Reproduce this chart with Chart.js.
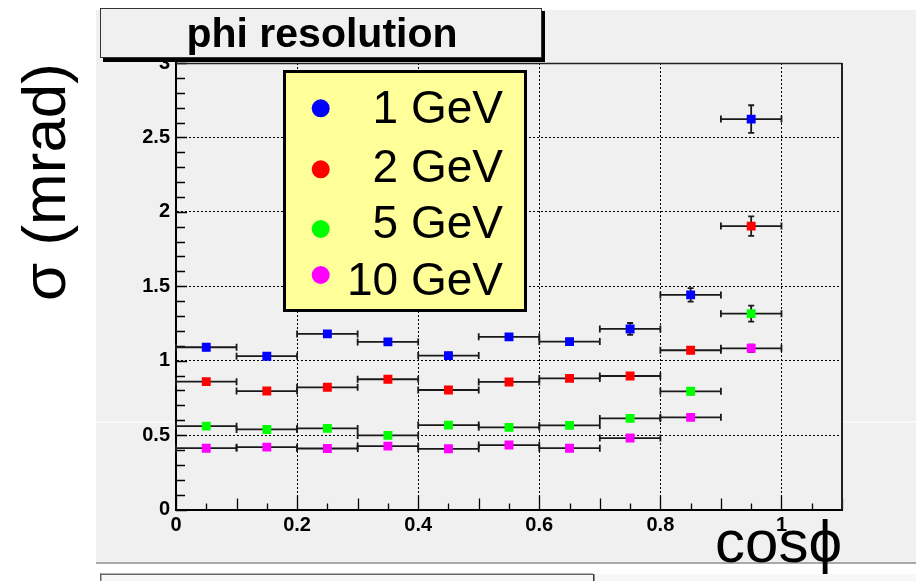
<!DOCTYPE html>
<html>
<head>
<meta charset="utf-8">
<script src="https://cdn.jsdelivr.net/npm/chart.js@4"></script>
<style>
  html, body { margin: 0; padding: 0; background: #fff; }
  #wrap { width: 916px; height: 581px; }
</style>
</head>
<body>
<div id="wrap"><canvas id="phiChart" width="916" height="581"></canvas></div>
<script>
// cos(phi) bin centres and half width
var cosBins = [0.05, 0.15, 0.25, 0.35, 0.45, 0.55, 0.65, 0.75, 0.85, 0.95];
var binHalf = 0.05;

// phi resolution (mrad) per energy, with vertical errors
var sigma1GeV  = [1.09, 1.03, 1.18, 1.126, 1.034, 1.16, 1.128, 1.213, 1.442, 2.623];
var err1GeV    = [0.02, 0.02, 0.02, 0.02, 0.02, 0.02, 0.02, 0.04, 0.045, 0.093];
var sigma2GeV  = [0.859, 0.796, 0.821, 0.875, 0.803, 0.857, 0.881, 0.897, 1.07, 1.904];
var err2GeV    = [0.015, 0.015, 0.015, 0.015, 0.015, 0.015, 0.015, 0.02, 0.02, 0.065];
var sigma5GeV  = [0.56, 0.538, 0.545, 0.498, 0.567, 0.552, 0.565, 0.612, 0.794, 1.316];
var err5GeV    = [0.01, 0.01, 0.01, 0.01, 0.01, 0.01, 0.01, 0.015, 0.02, 0.054];
var sigma10GeV = [0.412, 0.419, 0.41, 0.426, 0.408, 0.433, 0.412, 0.48, 0.619, 1.083];
var err10GeV   = [0.01, 0.01, 0.01, 0.01, 0.01, 0.01, 0.01, 0.01, 0.015, 0.025];

var energyLabels = ['1 GeV', '2 GeV', '5 GeV', '10 GeV'];
var xTicks = [0, 0.2, 0.4, 0.6, 0.8, 1];
var xTickLabels = ['0', '0.2', '0.4', '0.6', '0.8', '1'];
var yTicks = [0, 0.5, 1, 1.5, 2, 2.5, 3];
var yTickLabels = ['0', '0.5', '1', '1.5', '2', '2.5', '3'];

var FONT = '"Liberation Sans", Arial, Helvetica, sans-serif';

function makePoints(values, errs) {
  return cosBins.map(function(c, i) {
    return { x: c, y: values[i], xErr: binHalf, yErr: errs[i] };
  });
}

function makeSet(label, values, errs, color) {
  return {
    label: label,
    data: makePoints(values, errs),
    backgroundColor: color,
    borderColor: color,
    borderWidth: 0,
    pointStyle: 'rect',
    pointRadius: 6.3,
    showLine: false,
  };
}

// pad, frame and background
var padPlugin = {
  id: 'pad',
  beforeDraw: function(chart) {
    var ctx = chart.ctx, a = chart.chartArea;
    ctx.save();
    ctx.fillStyle = '#ffffff';
    ctx.fillRect(0, 0, 916, 581);
    ctx.fillStyle = '#f0f0f0';
    ctx.fillRect(96, 10, 820, 553);
    // faint sub-pad seam
    ctx.fillStyle = '#ffffff';
    ctx.fillRect(96, 421.5, 820, 1);
    // bottom edge of the pad
    ctx.fillStyle = '#a9a9a9';
    ctx.fillRect(96, 562, 820, 2);
    // next pad peeking in below
    ctx.fillStyle = '#f7f7f7';
    ctx.fillRect(100, 574, 816, 7);
    ctx.fillStyle = '#666';
    ctx.fillRect(100, 573.5, 493, 1.5);
    ctx.fillRect(100, 573.5, 1.5, 8);
    ctx.fillStyle = '#333';
    ctx.fillRect(593, 574, 1.5, 7);
    // plot area
    ctx.fillStyle = '#f0f0f0';
    ctx.fillRect(a.left, a.top, a.right - a.left, a.bottom - a.top);
    ctx.restore();
  },
};

// inside ticks, top/right frame and error bars
var errorPlugin = {
  id: 'errors',
  beforeDatasetsDraw: function(chart) {
    var ctx = chart.ctx, a = chart.chartArea;
    var xs = chart.scales.x, ys = chart.scales.y;
    ctx.save();
    ctx.strokeStyle = '#000';
    ctx.lineWidth = 1.3;
    ctx.beginPath();
    for (var i = 0; i <= 22; i++) {
      var vx = i * 0.05;
      var px = Math.round(xs.getPixelForValue(vx)) + 0.5;
      var len = (i % 4 === 0) ? 14 : (i % 2 === 0 ? 11 : 6);
      ctx.moveTo(px, a.bottom);
      ctx.lineTo(px, a.bottom - len);
    }
    for (var j = 0; j <= 30; j++) {
      var vy = j * 0.1;
      var py = Math.round(ys.getPixelForValue(vy)) + 0.5;
      var ylen = (j % 5 === 0) ? 11 : 9;
      ctx.moveTo(a.left, py);
      ctx.lineTo(a.left + ylen, py);
    }
    ctx.stroke();

    // top and right frame
    ctx.strokeStyle = '#222';
    ctx.lineWidth = 1.3;
    ctx.beginPath();
    ctx.moveTo(a.left, a.top + 0.5);
    ctx.lineTo(a.right, a.top + 0.5);
    ctx.stroke();
    ctx.lineWidth = 2;
    ctx.beginPath();
    ctx.moveTo(a.right, a.top);
    ctx.lineTo(a.right, a.bottom);
    ctx.stroke();

    // error bars
    ctx.strokeStyle = '#1a1a1a';
    ctx.lineWidth = 1.8;
    chart.data.datasets.forEach(function(ds) {
      ds.data.forEach(function(p) {
        var cx = xs.getPixelForValue(p.x), cy = ys.getPixelForValue(p.y);
        var x1 = xs.getPixelForValue(p.x - p.xErr), x2 = xs.getPixelForValue(p.x + p.xErr);
        var y1 = ys.getPixelForValue(p.y - p.yErr), y2 = ys.getPixelForValue(p.y + p.yErr);
        ctx.beginPath();
        ctx.moveTo(x1, cy); ctx.lineTo(x2, cy);
        ctx.moveTo(x1, cy - 3.5); ctx.lineTo(x1, cy + 3.5);
        ctx.moveTo(x2, cy - 3.5); ctx.lineTo(x2, cy + 3.5);
        ctx.moveTo(cx, y1); ctx.lineTo(cx, y2);
        ctx.moveTo(cx - 3, y1); ctx.lineTo(cx + 3, y1);
        ctx.moveTo(cx - 3, y2); ctx.lineTo(cx + 3, y2);
        ctx.stroke();
      });
    });
    ctx.restore();
  },
};

// ROOT style legend box and title box
var boxesPlugin = {
  id: 'boxes',
  afterDraw: function(chart) {
    var ctx = chart.ctx;
    ctx.save();
    // legend
    ctx.fillStyle = '#ffff99';
    ctx.fillRect(284, 71, 242, 240);
    ctx.strokeStyle = '#000';
    ctx.lineWidth = 3;
    ctx.strokeRect(284.5, 71.5, 241, 239);
    var markY = [108.3, 169.3, 229, 275];
    var textY = [123.3, 181.7, 238.3, 295];
    ctx.font = '46px ' + FONT;
    ctx.textAlign = 'right';
    ctx.textBaseline = 'alphabetic';
    chart.data.datasets.forEach(function(ds, i) {
      ctx.fillStyle = ds.backgroundColor;
      ctx.beginPath();
      ctx.arc(320.7, markY[i], 9, 0, Math.PI * 2);
      ctx.fill();
      ctx.fillStyle = '#000';
      ctx.fillText(ds.label, 503, textY[i]);
    });

    // title box with shadow
    ctx.fillStyle = '#000';
    ctx.fillRect(103, 11, 442, 51);
    ctx.fillStyle = '#f0f0f0';
    ctx.fillRect(100, 8, 442, 50);
    ctx.strokeStyle = '#333';
    ctx.lineWidth = 1;
    ctx.strokeRect(100.5, 8.5, 441, 49);
    ctx.fillStyle = '#000';
    ctx.font = 'bold 41px ' + FONT;
    ctx.textAlign = 'center';
    ctx.fillText('phi resolution', 322, 47);
    ctx.restore();
  },
};

var tickFont = { family: FONT, size: 20, weight: 'bold' };

var phiChart = new Chart(document.getElementById('phiChart').getContext('2d'), {
  type: 'scatter',
  data: {
    datasets: [
      makeSet(energyLabels[0], sigma1GeV, err1GeV, '#0000ff'),
      makeSet(energyLabels[1], sigma2GeV, err2GeV, '#ff0000'),
      makeSet(energyLabels[2], sigma5GeV, err5GeV, '#00ff00'),
      makeSet(energyLabels[3], sigma10GeV, err10GeV, '#ff00ff'),
    ],
  },
  options: {
    responsive: false,
    animation: false,
    events: [],
    layout: { padding: { left: 0, top: 63, right: 74, bottom: 0 } },
    plugins: {
      legend: { display: false },
      tooltip: { enabled: false },
    },
    scales: {
      x: {
        type: 'linear',
        min: 0,
        max: 1.1,
        afterBuildTicks: function(s) { s.ticks = xTicks.map(function(v) { return { value: v }; }); },
        afterFit: function(s) { s.height = 71.5; },
        grid: { color: '#000', lineWidth: 1, drawTicks: false },
        border: { display: true, color: '#000', width: 2, dash: [2, 2] },
        ticks: {
          padding: 4, color: '#000', font: tickFont, maxRotation: 0, autoSkip: false,
          callback: function(v, i) { return xTickLabels[i]; },
        },
        title: {
          display: true, text: 'cosϕ', align: 'end', color: '#000',
          font: { family: FONT, size: 60 }, padding: { top: 0, bottom: 0 },
        },
      },
      y: {
        type: 'linear',
        min: 0,
        max: 3,
        afterBuildTicks: function(s) { s.ticks = yTicks.map(function(v) { return { value: v }; }); },
        afterFit: function(s) { s.width = 176; },
        grid: { color: '#000', lineWidth: 1, drawTicks: false },
        border: { display: true, color: '#000', width: 2, dash: [2, 2] },
        ticks: {
          padding: 6, color: '#000', font: tickFont, autoSkip: false,
          callback: function(v, i) { return yTickLabels[i]; },
        },
        title: {
          display: true, text: 'σ (mrad)', align: 'end', color: '#000',
          font: { family: FONT, size: 62 }, padding: { top: 11, bottom: 0 },
        },
      },
    },
  },
  plugins: [padPlugin, errorPlugin, boxesPlugin],
});
</script>
</body>
</html>
